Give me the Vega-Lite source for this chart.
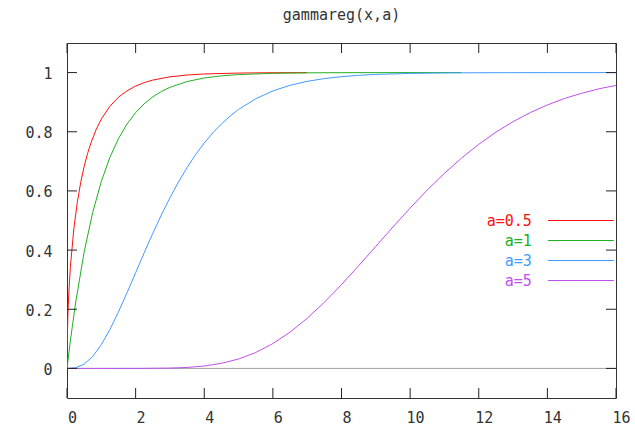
{
  "$schema": "https://vega.github.io/schema/vega-lite/v6.json",
  "width": 549,
  "height": 355,
  "autosize": {"type": "none"},
  "padding": {"left": 67, "top": 43, "right": 19, "bottom": 31},
  "background": "white",
  "config": {
    "view": {"stroke": "#333333", "strokeWidth": 1},
    "font": "DejaVu Sans Mono",
    "axis": {
      "domain": false,
      "grid": false,
      "ticks": false,
      "labelFont": "DejaVu Sans Mono",
      "labelFontSize": 15,
      "labelColor": "#333333",
      "title": null
    }
  },
  "title": {
    "text": "gammareg(x,a)",
    "font": "DejaVu Sans Mono",
    "fontSize": 15,
    "fontWeight": "normal",
    "color": "#333333",
    "anchor": "middle",
    "offset": 20
  },
  "datasets": {
    "xticks": [{"v": 0}, {"v": 2}, {"v": 4}, {"v": 6}, {"v": 8}, {"v": 10}, {"v": 12}, {"v": 14}, {"v": 16}],
    "yticks": [{"v": 0}, {"v": 0.2}, {"v": 0.4}, {"v": 0.6}, {"v": 0.8}, {"v": 1}],
    "zero": [{"v": 0}],
    "curves": [
      {"series": "a=0.5", "x": 0, "y": 0},
      {"series": "a=0.5", "x": 0.01, "y": 0.112},
      {"series": "a=0.5", "x": 0.03, "y": 0.1935},
      {"series": "a=0.5", "x": 0.05, "y": 0.248},
      {"series": "a=0.5", "x": 0.1, "y": 0.345},
      {"series": "a=0.5", "x": 0.2, "y": 0.473},
      {"series": "a=0.5", "x": 0.3, "y": 0.561},
      {"series": "a=0.5", "x": 0.4, "y": 0.629},
      {"series": "a=0.5", "x": 0.5, "y": 0.683},
      {"series": "a=0.5", "x": 0.6, "y": 0.7266},
      {"series": "a=0.5", "x": 0.7, "y": 0.763},
      {"series": "a=0.5", "x": 0.85, "y": 0.8077},
      {"series": "a=0.5", "x": 1, "y": 0.843},
      {"series": "a=0.5", "x": 1.25, "y": 0.886},
      {"series": "a=0.5", "x": 1.5, "y": 0.917},
      {"series": "a=0.5", "x": 1.75, "y": 0.9383},
      {"series": "a=0.5", "x": 2, "y": 0.9545},
      {"series": "a=0.5", "x": 2.25, "y": 0.9661},
      {"series": "a=0.5", "x": 2.5, "y": 0.9747},
      {"series": "a=0.5", "x": 3, "y": 0.9857},
      {"series": "a=0.5", "x": 3.5, "y": 0.9918},
      {"series": "a=0.5", "x": 4, "y": 0.9953},
      {"series": "a=0.5", "x": 5, "y": 0.9984},
      {"series": "a=0.5", "x": 6, "y": 0.9995},
      {"series": "a=0.5", "x": 7, "y": 0.9998},
      {"series": "a=1", "x": 0, "y": 0},
      {"series": "a=1", "x": 0.1, "y": 0.0952},
      {"series": "a=1", "x": 0.25, "y": 0.2212},
      {"series": "a=1", "x": 0.5, "y": 0.3935},
      {"series": "a=1", "x": 0.75, "y": 0.5276},
      {"series": "a=1", "x": 1, "y": 0.6321},
      {"series": "a=1", "x": 1.25, "y": 0.7135},
      {"series": "a=1", "x": 1.5, "y": 0.7769},
      {"series": "a=1", "x": 1.75, "y": 0.8262},
      {"series": "a=1", "x": 2, "y": 0.8647},
      {"series": "a=1", "x": 2.25, "y": 0.8946},
      {"series": "a=1", "x": 2.5, "y": 0.9179},
      {"series": "a=1", "x": 2.75, "y": 0.9361},
      {"series": "a=1", "x": 3, "y": 0.9502},
      {"series": "a=1", "x": 3.5, "y": 0.9698},
      {"series": "a=1", "x": 4, "y": 0.9817},
      {"series": "a=1", "x": 4.5, "y": 0.9889},
      {"series": "a=1", "x": 5, "y": 0.9933},
      {"series": "a=1", "x": 6, "y": 0.9975},
      {"series": "a=1", "x": 7, "y": 0.9991},
      {"series": "a=1", "x": 8, "y": 0.9997},
      {"series": "a=1", "x": 10, "y": 0.99995},
      {"series": "a=1", "x": 11.5, "y": 1},
      {"series": "a=3", "x": 0, "y": 0},
      {"series": "a=3", "x": 0.25, "y": 0.0022},
      {"series": "a=3", "x": 0.5, "y": 0.0144},
      {"series": "a=3", "x": 0.75, "y": 0.0405},
      {"series": "a=3", "x": 1, "y": 0.0803},
      {"series": "a=3", "x": 1.25, "y": 0.1315},
      {"series": "a=3", "x": 1.5, "y": 0.1912},
      {"series": "a=3", "x": 1.75, "y": 0.256},
      {"series": "a=3", "x": 2, "y": 0.3233},
      {"series": "a=3", "x": 2.25, "y": 0.3907},
      {"series": "a=3", "x": 2.5, "y": 0.4562},
      {"series": "a=3", "x": 2.75, "y": 0.5185},
      {"series": "a=3", "x": 3, "y": 0.5768},
      {"series": "a=3", "x": 3.25, "y": 0.6305},
      {"series": "a=3", "x": 3.5, "y": 0.6792},
      {"series": "a=3", "x": 3.75, "y": 0.7229},
      {"series": "a=3", "x": 4, "y": 0.7619},
      {"series": "a=3", "x": 4.25, "y": 0.7963},
      {"series": "a=3", "x": 4.5, "y": 0.8264},
      {"series": "a=3", "x": 4.75, "y": 0.8526},
      {"series": "a=3", "x": 5, "y": 0.8753},
      {"series": "a=3", "x": 5.5, "y": 0.9116},
      {"series": "a=3", "x": 6, "y": 0.938},
      {"series": "a=3", "x": 6.5, "y": 0.957},
      {"series": "a=3", "x": 7, "y": 0.9704},
      {"series": "a=3", "x": 7.5, "y": 0.9797},
      {"series": "a=3", "x": 8, "y": 0.9862},
      {"series": "a=3", "x": 8.5, "y": 0.9907},
      {"series": "a=3", "x": 9, "y": 0.9938},
      {"series": "a=3", "x": 10, "y": 0.9972},
      {"series": "a=3", "x": 11, "y": 0.9988},
      {"series": "a=3", "x": 12, "y": 0.9995},
      {"series": "a=3", "x": 14, "y": 0.9999},
      {"series": "a=3", "x": 16, "y": 1},
      {"series": "a=5", "x": 0, "y": 0},
      {"series": "a=5", "x": 2, "y": 0.00005},
      {"series": "a=5", "x": 3, "y": 0.0011},
      {"series": "a=5", "x": 3.5, "y": 0.0033},
      {"series": "a=5", "x": 4, "y": 0.0081},
      {"series": "a=5", "x": 4.5, "y": 0.0171},
      {"series": "a=5", "x": 5, "y": 0.0318},
      {"series": "a=5", "x": 5.5, "y": 0.0538},
      {"series": "a=5", "x": 6, "y": 0.0839},
      {"series": "a=5", "x": 6.5, "y": 0.1226},
      {"series": "a=5", "x": 7, "y": 0.1695},
      {"series": "a=5", "x": 7.5, "y": 0.2236},
      {"series": "a=5", "x": 8, "y": 0.2834},
      {"series": "a=5", "x": 8.5, "y": 0.347},
      {"series": "a=5", "x": 9, "y": 0.4126},
      {"series": "a=5", "x": 9.5, "y": 0.4782},
      {"series": "a=5", "x": 10, "y": 0.5421},
      {"series": "a=5", "x": 10.5, "y": 0.6033},
      {"series": "a=5", "x": 11, "y": 0.6595},
      {"series": "a=5", "x": 11.5, "y": 0.7112},
      {"series": "a=5", "x": 12, "y": 0.7576},
      {"series": "a=5", "x": 12.5, "y": 0.7986},
      {"series": "a=5", "x": 13, "y": 0.8342},
      {"series": "a=5", "x": 13.5, "y": 0.8648},
      {"series": "a=5", "x": 14, "y": 0.8906},
      {"series": "a=5", "x": 14.5, "y": 0.9126},
      {"series": "a=5", "x": 15, "y": 0.9301},
      {"series": "a=5", "x": 15.5, "y": 0.9451},
      {"series": "a=5", "x": 16, "y": 0.9567}
    ]
  },
  "layer": [
    {
      "data": {"name": "zero"},
      "mark": {"type": "rule", "color": "#a0a0a0", "strokeWidth": 1},
      "encoding": {
        "y": {
          "field": "v",
          "type": "quantitative",
          "scale": {"domain": [-0.1, 1.1], "nice": false, "zero": false}
        }
      }
    },
    {
      "data": {"name": "curves"},
      "mark": {"type": "line", "strokeWidth": 1, "clip": true},
      "encoding": {
        "x": {
          "field": "x",
          "type": "quantitative",
          "scale": {"domain": [0, 16], "nice": false, "zero": false},
          "axis": {"orient": "bottom", "values": [0, 2, 4, 6, 8, 10, 12, 14, 16], "labelPadding": 12, "labelOffset": 5, "labelFlush": false}
        },
        "y": {
          "field": "y",
          "type": "quantitative",
          "scale": {"domain": [-0.1, 1.1], "nice": false, "zero": false},
          "axis": {"orient": "left", "values": [0, 0.2, 0.4, 0.6, 0.8, 1], "format": "~g", "labelPadding": 15, "labelOffset": 1}
        },
        "color": {
          "field": "series",
          "type": "nominal",
          "scale": {"domain": ["a=0.5", "a=1", "a=3", "a=5"], "range": ["#ff1010", "#20b020", "#4499ff", "#c050f0"]},
          "legend": {
            "orient": "none",
            "legendX": 480,
            "legendY": 170,
            "title": null,
            "symbolType": "M-5,0H5",
            "symbolSize": 174.24,
            "symbolOffset": 26.4,
            "symbolStrokeWidth": 1,
            "rowPadding": 4,
            "padding": 0,
            "labelAlign": "right",
            "labelOffset": -56.6,
            "labelFont": "DejaVu Sans Mono",
            "labelFontSize": 15,
            "encode": {
              "labels": {"update": {"fill": {"scale": "color", "field": "value"}}},
              "symbols": {"update": {"stroke": {"scale": "color", "field": "value"}}}
            }
          }
        }
      }
    },
    {
      "data": {"name": "xticks"},
      "mark": {"type": "rule", "color": "#222222", "strokeWidth": 1},
      "encoding": {
        "x": {"field": "v", "type": "quantitative"},
        "y": {"datum": -0.1, "type": "quantitative"},
        "y2": {"datum": -0.0662}
      }
    },
    {
      "data": {"name": "xticks"},
      "mark": {"type": "rule", "color": "#222222", "strokeWidth": 1},
      "encoding": {
        "x": {"field": "v", "type": "quantitative"},
        "y": {"datum": 1.0662, "type": "quantitative"},
        "y2": {"datum": 1.1}
      }
    },
    {
      "data": {"name": "yticks"},
      "mark": {"type": "rule", "color": "#222222", "strokeWidth": 1},
      "encoding": {
        "y": {"field": "v", "type": "quantitative"},
        "x": {"datum": 0, "type": "quantitative"},
        "x2": {"datum": 0.2914}
      }
    },
    {
      "data": {"name": "yticks"},
      "mark": {"type": "rule", "color": "#222222", "strokeWidth": 1},
      "encoding": {
        "y": {"field": "v", "type": "quantitative"},
        "x": {"datum": 15.7086, "type": "quantitative"},
        "x2": {"datum": 16}
      }
    }
  ]
}
